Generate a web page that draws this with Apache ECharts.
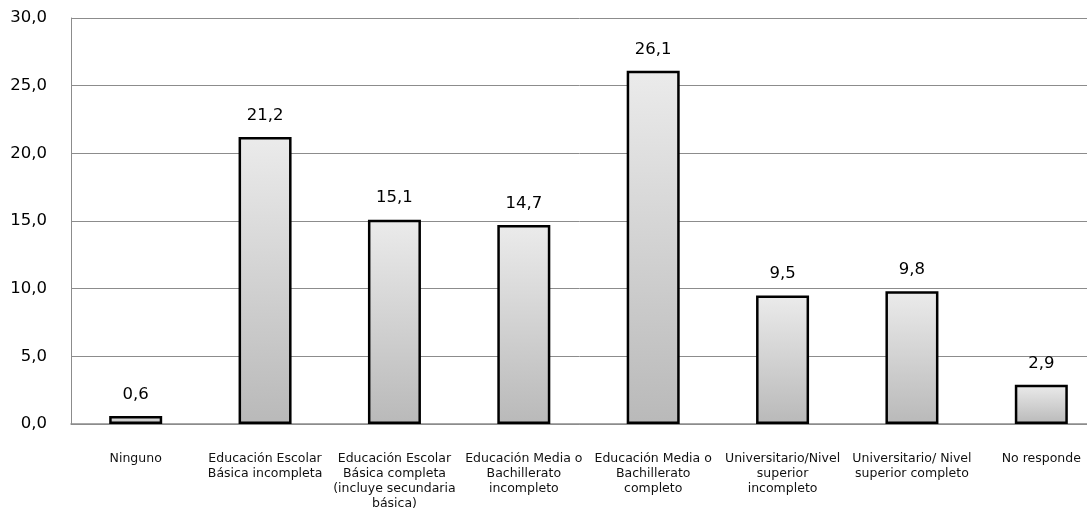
<!DOCTYPE html>
<html><head><meta charset="utf-8">
<script src="https://cdn.jsdelivr.net/npm/echarts@6/dist/echarts.min.js"></script>
<style>html,body{margin:0;padding:0;background:#fff}#c{width:1087px;height:525px}</style>
</head><body><div id="c"></div>
<script>
const categories = [
  "Ninguno",
  "Educación Escolar\nBásica incompleta",
  "Educación Escolar\nBásica completa\n(incluye secundaria\nbásica)",
  "Educación Media o\nBachillerato\nincompleto",
  "Educación Media o\nBachillerato\ncompleto",
  "Universitario/Nivel\nsuperior\nincompleto",
  "Universitario/ Nivel\nsuperior completo",
  "No responde"
];
const values = [0.6, 21.2, 15.1, 14.7, 26.1, 9.5, 9.8, 2.9];
const yTicks = [0, 5, 10, 15, 20, 25, 30];

const fmt = v => Number(v).toFixed(1).replace('.', ',');
const chart = echarts.init(document.getElementById('c'));
chart.setOption({
  animation: false,
  textStyle: { fontFamily: "DejaVu Sans" },
  grid: { left: 71, top: 18, width: 1035, height: 406, outerBoundsMode: 'none', containLabel: false },
  xAxis: {
    type: 'category', data: categories,
    axisLine: { lineStyle: { color: '#8c8c8c', width: 1.5 } },
    axisTick: { show: false },
    axisLabel: { interval: 0, color: '#111', fontSize: 12.5, lineHeight: 15, margin: 27, fontFamily: "DejaVu Sans" }
  },
  yAxis: {
    type: 'value', min: yTicks[0], max: yTicks[yTicks.length - 1], interval: 5,
    axisLine: { show: true, lineStyle: { color: '#8c8c8c', width: 1 } },
    axisTick: { show: false },
    splitLine: { lineStyle: { color: '#8c8c8c', width: 1 } },
    axisLabel: { formatter: fmt, color: '#000', fontSize: 16.5, margin: 24, fontFamily: "DejaVu Sans" }
  },
  series: [{
    type: 'bar', data: values, barWidth: 53,
    itemStyle: {
      borderColor: '#000', borderWidth: 2.5,
      color: new echarts.graphic.LinearGradient(0, 0, 0, 1, [
        { offset: 0, color: '#ebebeb' }, { offset: 1, color: '#b9b9b9' }
      ])
    },
    label: { show: true, position: 'top', distance: 13, formatter: p => fmt(p.value), color: '#000', fontSize: 16.5, fontFamily: "DejaVu Sans" }
  }]
});
</script></body></html>
